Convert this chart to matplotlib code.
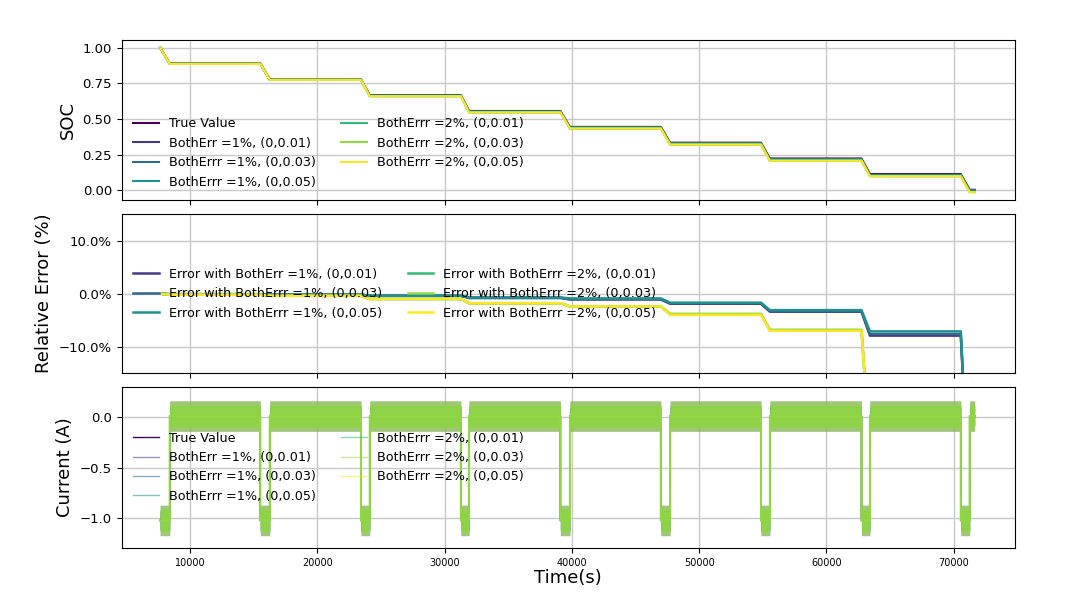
import matplotlib
matplotlib.use("Agg")
import matplotlib.pyplot as plt
from matplotlib.ticker import PercentFormatter
import numpy as np

# discharge pulses (s)
pulse_start = [7650, 15520, 23430, 31280, 39100, 46990, 54860, 62760, 70560]
pulse_end = [8400, 16260, 24120, 31920, 39850, 47720, 55560, 63420, 71260]
t_last = 71650

# SOC plateaus (before first pulse, then after each pulse)
soc_true = [1.000, 0.889, 0.778, 0.667, 0.556, 0.444, 0.333, 0.222, 0.113, 0.002]
soc_est = {
    "BothErr =1%, (0,0.01)":  [1.000, 0.888, 0.776, 0.664, 0.552, 0.440, 0.327, 0.215, 0.105, -0.004],
    "BothErrr =1%, (0,0.03)": [1.000, 0.888, 0.776, 0.664, 0.552, 0.440, 0.327, 0.215, 0.106, -0.004],
    "BothErrr =1%, (0,0.05)": [1.000, 0.888, 0.776, 0.664, 0.552, 0.440, 0.328, 0.216, 0.107, -0.003],
    "BothErrr =2%, (0,0.01)": [1.000, 0.887, 0.775, 0.660, 0.546, 0.433, 0.320, 0.207, 0.098, -0.014],
    "BothErrr =2%, (0,0.03)": [1.000, 0.887, 0.775, 0.660, 0.546, 0.433, 0.320, 0.207, 0.098, -0.014],
    "BothErrr =2%, (0,0.05)": [1.000, 0.887, 0.775, 0.660, 0.546, 0.433, 0.320, 0.206, 0.097, -0.015],
}

# relative error plateaus (%)
rel_err = {
    "Error with BothErr =1%, (0,0.01)":  [0, -0.1, -0.2, -0.4, -0.8, -1.1, -1.9, -3.4, -7.9, -40],
    "Error with BothErrr =1%, (0,0.03)": [0, -0.1, -0.2, -0.4, -0.8, -1.0, -1.8, -3.3, -7.6, -40],
    "Error with BothErrr =1%, (0,0.05)": [0, -0.1, -0.2, -0.4, -0.7, -0.9, -1.7, -3.1, -7.1, -40],
    "Error with BothErrr =2%, (0,0.01)": [0, -0.2, -0.4, -1.0, -1.8, -2.4, -3.9, -6.9, -30, -60],
    "Error with BothErrr =2%, (0,0.03)": [0, -0.2, -0.4, -1.0, -1.8, -2.4, -3.8, -6.8, -30, -60],
    "Error with BothErrr =2%, (0,0.05)": [0, -0.2, -0.4, -1.0, -1.8, -2.4, -4.0, -7.0, -30, -60],
}

# current: rest / pulse level (A) and noise half-band per series (A)
rest_level = 0.01
pulse_level = -1.02
current_labels = ["True Value"] + list(soc_est.keys())
current_band = [0.0, 0.09, 0.10, 0.15, 0.09, 0.11, 0.15]

colors = [plt.cm.viridis(i / 6) for i in range(7)]
band_alpha = [0.0, 0.5, 0.5, 0.7, 0.5, 0.85, 0.4]
band_z = [1, 2, 3, 4, 5, 7, 6]


def plateau_curve(values):
    t = [pulse_start[0]]
    y = [values[0]]
    for k in range(len(pulse_start)):
        t += [pulse_end[k]]
        y += [values[k + 1]]
        if k + 1 < len(pulse_start):
            t += [pulse_start[k + 1]]
            y += [values[k + 1]]
    t += [t_last]
    y += [values[-1]]
    return np.array(t), np.array(y)


def current_curve():
    t, y = [], []
    for k in range(len(pulse_start)):
        t += [pulse_start[k], pulse_end[k], pulse_end[k] + 1]
        y += [pulse_level, pulse_level, rest_level]
        nxt = pulse_start[k + 1] - 1 if k + 1 < len(pulse_start) else t_last
        t += [nxt]
        y += [rest_level]
    return np.array(t), np.array(y)


fig = plt.figure(figsize=(10.8, 6.08), dpi=100)
ax1 = fig.add_axes([0.1127, 0.671, 0.8271, 0.263])
ax2 = fig.add_axes([0.1127, 0.386, 0.8271, 0.262], sharex=ax1)
ax3 = fig.add_axes([0.1127, 0.099, 0.8271, 0.265], sharex=ax1)

# SOC
t, y = plateau_curve(soc_true)
ax1.plot(t, y, color=colors[0], lw=1.5, label="True Value")
for i, (lab, vals) in enumerate(soc_est.items()):
    t, y = plateau_curve(vals)
    ax1.plot(t, y, color=colors[i + 1], lw=1.5, label=lab)
ax1.set_ylim(-0.07, 1.054)
ax1.set_yticks([0.0, 0.25, 0.5, 0.75, 1.0])
ax1.set_yticklabels(["0.00", "0.25", "0.50", "0.75", "1.00"])
ax1.set_ylabel("SOC", fontsize=13)
ax1.legend(loc="lower left", ncol=2, frameon=False, fontsize=9.2)

# relative error
for i, (lab, vals) in enumerate(rel_err.items()):
    t, y = plateau_curve(vals)
    ax2.plot(t, y, color=colors[i + 1], lw=1.8, label=lab)
ax2.set_ylim(-15, 15)
ax2.set_yticks([-10, 0, 10])
ax2.yaxis.set_major_formatter(PercentFormatter(xmax=100, decimals=1))
ax2.set_ylabel("Relative Error (%)", fontsize=13)
ax2.legend(loc="center left", ncol=2, frameon=False, fontsize=9.2)

# current
tc, yc = current_curve()
for i, lab in enumerate(current_labels):
    alpha = 1.0 if i == 0 else 0.55
    ax3.plot(tc, yc, color=colors[i], lw=1.0, alpha=alpha, label=lab, zorder=band_z[i])
    if current_band[i] > 0:
        ax3.fill_between(tc, yc - current_band[i], yc + current_band[i],
                         color=colors[i], alpha=band_alpha[i], lw=0, zorder=band_z[i])
ax3.plot(tc, yc, color=colors[5], lw=1.5, zorder=8)
ax3.set_ylim(-1.29, 0.30)
ax3.set_yticks([-1.0, -0.5, 0.0])
ax3.set_ylabel("Current (A)", fontsize=13)
ax3.set_xlabel("Time(s)", fontsize=13, labelpad=1)
ax3.legend(loc="center left", ncol=2, frameon=False, fontsize=9.2).set_zorder(10)

ax1.set_xlim(4630, 74820)
ax3.set_xticks([10000, 20000, 30000, 40000, 50000, 60000, 70000])
for ax in (ax1, ax2, ax3):
    ax.grid(True, color="#c8c8c8", lw=1)
    ax.tick_params(axis="y", labelsize=9.5)
    ax.tick_params(axis="x", labelsize=7)
plt.setp(ax1.get_xticklabels(), visible=False)
plt.setp(ax2.get_xticklabels(), visible=False)

fig.savefig("out.png", dpi=100)
